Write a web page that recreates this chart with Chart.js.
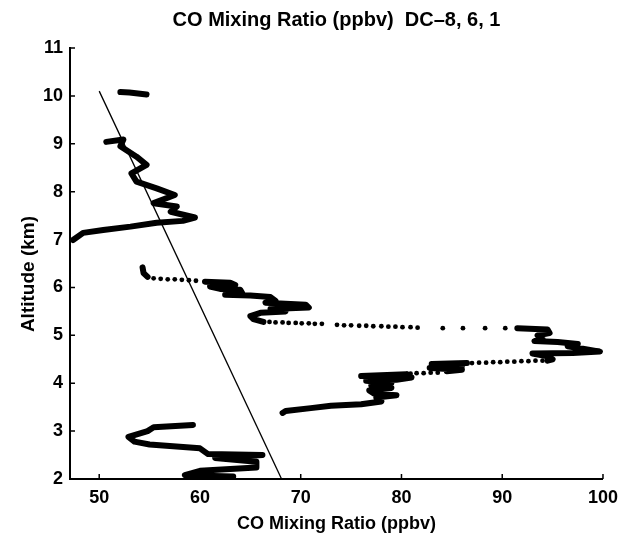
<!DOCTYPE html>
<html>
<head>
<meta charset="utf-8">
<script src="https://cdn.jsdelivr.net/npm/chart.js@4/dist/chart.umd.min.js"></script>
<style>
  html, body { margin: 0; padding: 0; background: #fff; }
  #wrap { width: 626px; height: 537px; }
</style>
</head>
<body>
<div id="wrap"><canvas id="chart" width="626" height="537"></canvas></div>
<script>
'use strict';

// tick labels
var altTicks = [2, 3, 4, 5, 6, 7, 8, 9, 10, 11];
var coTicks = [50, 60, 70, 80, 90, 100];

// profile pieces (CO ppbv / altitude km)
var topCO = [52.1, 53.0, 54.7];
var topAlt = [10.08, 10.07, 10.03];

var upperCO = [50.7, 52.4, 52.1, 53.7, 54.7, 53.2, 53.7, 55.7, 57.5, 55.4, 57.7, 57.1, 59.5, 58.3, 55.7, 53.1, 50.4, 48.4, 47.4];
var upperAlt = [9.04, 9.09, 8.95, 8.73, 8.56, 8.38, 8.21, 8.07, 7.93, 7.76, 7.69, 7.58, 7.46, 7.39, 7.35, 7.27, 7.20, 7.14, 6.99];

var midStartCO = [54.3, 54.4, 54.8];
var midStartAlt = [6.42, 6.30, 6.22];

var dots1CO = [55.4, 56.1, 56.8, 57.5, 58.2, 58.9, 59.6];
var dots1Alt = [6.19, 6.18, 6.17, 6.17, 6.16, 6.15, 6.14];

var midCO = [60.5, 63.0, 63.5, 61.0, 62.0, 64.0, 64.2, 62.5, 65.0, 67.0, 67.5, 66.5, 70.5, 70.8, 67.0, 68.5, 66.0, 65.0, 65.3, 66.3];
var midAlt = [6.12, 6.10, 6.05, 6.02, 5.97, 5.95, 5.88, 5.85, 5.83, 5.80, 5.72, 5.68, 5.64, 5.58, 5.55, 5.50, 5.47, 5.40, 5.34, 5.28];

var dots2CO = [66.9, 67.5, 68.2, 68.8, 69.5, 70.1, 70.8, 71.4, 72.1, 73.6, 74.3, 75.0, 75.8, 76.5, 77.2, 78.0, 78.7, 79.4, 80.1, 80.9, 81.6, 84.1, 86.1, 88.3, 90.3];
var dots2Alt = [5.28, 5.27, 5.27, 5.26, 5.26, 5.25, 5.25, 5.24, 5.24, 5.22, 5.21, 5.21, 5.20, 5.20, 5.19, 5.19, 5.18, 5.18, 5.17, 5.17, 5.16, 5.15, 5.15, 5.15, 5.15];

var peakCO = [91.5, 94.5, 94.7, 93.5, 94.0, 93.2, 95.5, 97.5, 96.5, 98.0, 99.7, 97.0, 93.0, 94.5, 95.0, 94.5];
var peakAlt = [5.15, 5.12, 5.05, 5.00, 4.92, 4.88, 4.86, 4.82, 4.77, 4.72, 4.66, 4.63, 4.62, 4.56, 4.50, 4.47];

var dots3CO = [94.0, 93.3, 92.6, 91.9, 91.2, 90.5, 89.8, 89.1, 88.4, 87.7, 87.0];
var dots3Alt = [4.47, 4.47, 4.46, 4.46, 4.45, 4.45, 4.44, 4.44, 4.43, 4.43, 4.42];

var shelfCO = [86.5, 83.0, 86.0, 82.8, 86.0, 84.5];
var shelfAlt = [4.42, 4.40, 4.35, 4.32, 4.28, 4.25];

var dots4CO = [83.6, 82.9, 82.2, 81.5, 80.9];
var dots4Alt = [4.22, 4.22, 4.21, 4.21, 4.20];

var lowCO = [80.5, 76.0, 81.0, 79.5, 76.5, 79.0, 77.0, 79.0, 76.8, 77.3, 79.5, 77.5, 78.0, 76.0, 73.0, 71.0, 68.5, 68.2];
var lowAlt = [4.19, 4.15, 4.12, 4.07, 4.05, 4.00, 3.95, 3.90, 3.85, 3.78, 3.75, 3.70, 3.62, 3.56, 3.53, 3.48, 3.42, 3.38];

var bottomCO = [59.3, 55.4, 54.8, 52.9, 53.5, 55.0, 60.0, 60.8, 66.2, 61.5, 65.6, 65.6, 60.0, 58.5, 63.3];
var bottomAlt = [3.13, 3.08, 3.00, 2.88, 2.78, 2.72, 2.64, 2.52, 2.50, 2.44, 2.36, 2.24, 2.17, 2.08, 2.05];

// straight reference line
var fitCO = [50.0, 68.1];
var fitAlt = [10.1, 2.0];

var titleText = 'CO Mixing Ratio (ppbv)  DC\u20138, 6, 1';

function pts(xs, ys) {
  var out = [];
  for (var i = 0; i < xs.length; i++) {
    out.push({x: xs[i], y: ys[i]});
  }
  return out;
}

function trace(xs, ys) {
  return {
    data: pts(xs, ys),
    showLine: true,
    borderColor: '#000',
    borderWidth: 6,
    borderJoinStyle: 'round',
    borderCapStyle: 'round',
    pointRadius: 0
  };
}

function dots(xs, ys) {
  return {
    data: pts(xs, ys),
    showLine: false,
    backgroundColor: '#000',
    borderWidth: 0,
    pointRadius: 2.4
  };
}

var fontFam = '"Liberation Sans", Arial, Helvetica, sans-serif';

// small inward ticks (MATLAB style) + title centred over the axes
var axesExtras = {
  id: 'axesExtras',
  afterDraw: function(chart) {
    var ctx = chart.ctx;
    var xs = chart.scales.x;
    var ys = chart.scales.y;
    var area = chart.chartArea;
    ctx.save();
    ctx.strokeStyle = '#000';
    ctx.lineWidth = 1.5;
    ctx.beginPath();
    coTicks.forEach(function(v) {
      var px = xs.getPixelForValue(v);
      ctx.moveTo(px, area.bottom);
      ctx.lineTo(px, area.bottom - 5);
    });
    altTicks.forEach(function(v) {
      var py = ys.getPixelForValue(v);
      ctx.moveTo(area.left, py);
      ctx.lineTo(area.left + 5, py);
    });
    ctx.stroke();

    ctx.fillStyle = '#000';
    ctx.font = 'bold 20px ' + fontFam;
    ctx.textAlign = 'center';
    ctx.textBaseline = 'middle';
    ctx.fillText(titleText, (area.left + area.right) / 2, 20);
    ctx.restore();
  }
};

var ctx = document.getElementById('chart').getContext('2d');

var chart = new Chart(ctx, {
  type: 'scatter',
  data: {
    datasets: [
      {
        data: pts(fitCO, fitAlt),
        showLine: true,
        borderColor: '#000',
        borderWidth: 1.3,
        pointRadius: 0
      },
      trace(topCO, topAlt),
      trace(upperCO, upperAlt),
      trace(midStartCO, midStartAlt),
      dots(dots1CO, dots1Alt),
      trace(midCO, midAlt),
      dots(dots2CO, dots2Alt),
      trace(peakCO, peakAlt),
      dots(dots3CO, dots3Alt),
      trace(shelfCO, shelfAlt),
      dots(dots4CO, dots4Alt),
      trace(lowCO, lowAlt),
      trace(bottomCO, bottomAlt)
    ]
  },
  options: {
    responsive: false,
    animation: false,
    devicePixelRatio: 1,
    layout: { padding: { left: 0, right: 23, top: 48, bottom: 0 } },
    plugins: {
      legend: { display: false },
      tooltip: { enabled: false },
      title: { display: false }
    },
    scales: {
      x: {
        type: 'linear',
        min: 47.1,
        max: 100,
        afterBuildTicks: function(scale) {
          scale.ticks = coTicks.map(function(v) { return {value: v}; });
        },
        afterFit: function(scale) { scale.height = 58; },
        grid: { display: false, drawTicks: false },
        border: { display: true, color: '#000', width: 2 },
        ticks: {
          color: '#000',
          padding: 8,
          maxRotation: 0,
          font: { family: fontFam, size: 18, weight: 'bold' }
        },
        title: {
          display: true,
          text: 'CO Mixing Ratio (ppbv)',
          color: '#000',
          font: { family: fontFam, size: 18, weight: 'bold' },
          padding: { top: 0, bottom: 2 }
        }
      },
      y: {
        type: 'linear',
        min: 2,
        max: 11,
        afterBuildTicks: function(scale) {
          scale.ticks = altTicks.map(function(v) { return {value: v}; });
        },
        afterFit: function(scale) { scale.width = 70; },
        grid: { display: false, drawTicks: false },
        border: { display: true, color: '#000', width: 2 },
        ticks: {
          color: '#000',
          padding: 7,
          font: { family: fontFam, size: 18, weight: 'bold' }
        },
        title: {
          display: true,
          text: 'Altitude (km)    ',
          color: '#000',
          font: { family: fontFam, size: 19, weight: 'bold' },
          padding: { top: 17, bottom: 0 }
        }
      }
    }
  },
  plugins: [axesExtras]
});
</script>
</body>
</html>
